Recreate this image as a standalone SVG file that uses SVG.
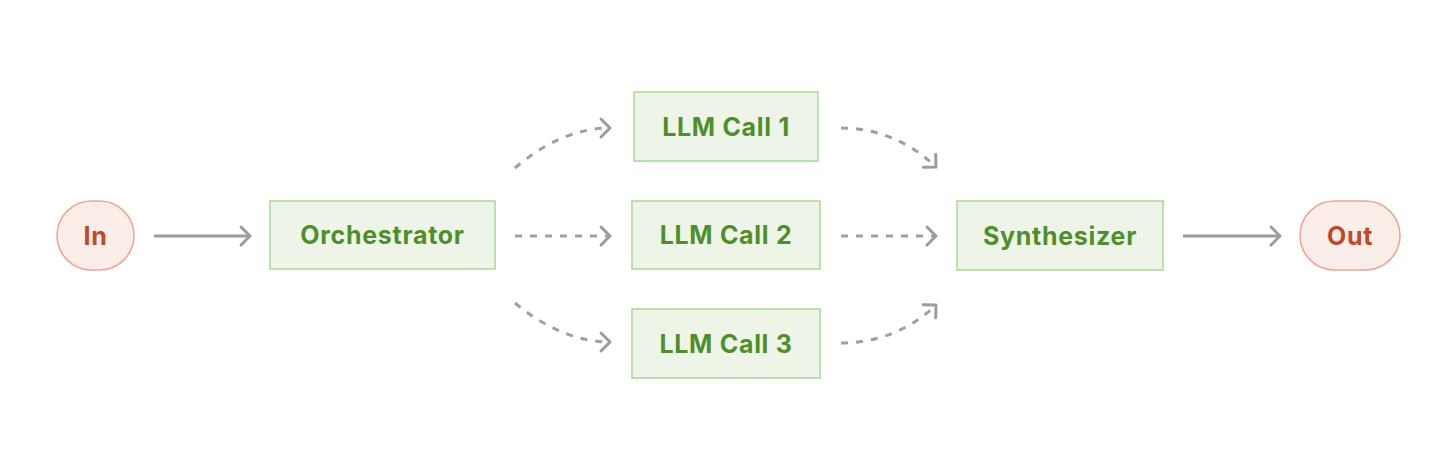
<svg xmlns="http://www.w3.org/2000/svg" width="1456" height="462" viewBox="0 0 1456 462">
<defs>
<style>
.box{fill:#EEF5E8;stroke:#A9D892;stroke-width:1.5}
.pill{fill:#FBEDE8;stroke:#EDA592;stroke-width:1.5}
.gt{fill:#4E8F2C;font-family:Inter,"Noto Sans","Liberation Sans",sans-serif;font-weight:700;font-size:25px;letter-spacing:0.7px;text-anchor:middle;dominant-baseline:central}
.rt{fill:#C2482A;font-family:Inter,"Noto Sans","Liberation Sans",sans-serif;font-weight:700;font-size:25px;letter-spacing:0.7px;text-anchor:middle;dominant-baseline:central}
.solid{fill:none;stroke:#9C9C9C;stroke-width:3;marker-end:url(#ah)}
.dash{fill:none;stroke:#A0A0A0;stroke-width:3;stroke-dasharray:7 8;marker-end:url(#ah)}
</style>
<marker id="ah" viewBox="-12 -12 16 24" markerWidth="16" markerHeight="24" refX="0" refY="0" orient="auto" markerUnits="userSpaceOnUse">
<path d="M-9,-9 L0,0 L-9,9" fill="none" stroke="#9C9C9C" stroke-width="3" stroke-linecap="round" stroke-linejoin="round"/>
</marker>
</defs>
<rect width="1456" height="462" fill="#FFFFFF"/>
<g id="connectors">
<path class="solid" d="M154,236 L250,236"/>
<path class="solid" d="M1183,236 L1280,236"/>
<path class="dash" d="M515,168 C545,142 578,128 610,128"/>
<path class="dash" d="M515,236 L610,236"/>
<path class="dash" d="M515,303 C545,328 578,342 610,342"/>
<path class="dash" d="M841,128 C880,128 912,144 936,167"/>
<path class="dash" d="M841,236 L936,236"/>
<path class="dash" d="M841,343 C880,343 912,328 936,305"/>
</g>
<g id="in"><rect class="pill" x="57" y="201" width="77" height="69" rx="34.5"/><text class="rt" x="95.5" y="236">In</text></g>
<g id="orchestrator"><rect class="box" x="270" y="201" width="225" height="68"/><text class="gt" x="382.5" y="235">Orchestrator</text></g>
<g id="llm1"><rect class="box" x="634" y="92" width="184" height="69"/><text class="gt" x="726" y="127">LLM Call 1</text></g>
<g id="llm2"><rect class="box" x="632" y="201" width="188" height="68"/><text class="gt" x="726" y="235">LLM Call 2</text></g>
<g id="llm3"><rect class="box" x="632" y="309" width="188" height="69"/><text class="gt" x="726" y="344">LLM Call 3</text></g>
<g id="synthesizer"><rect class="box" x="957" y="201" width="206" height="69"/><text class="gt" x="1060" y="236">Synthesizer</text></g>
<g id="out"><rect class="pill" x="1300" y="201" width="100" height="69" rx="34.5"/><text class="rt" x="1350" y="236">Out</text></g>
</svg>
